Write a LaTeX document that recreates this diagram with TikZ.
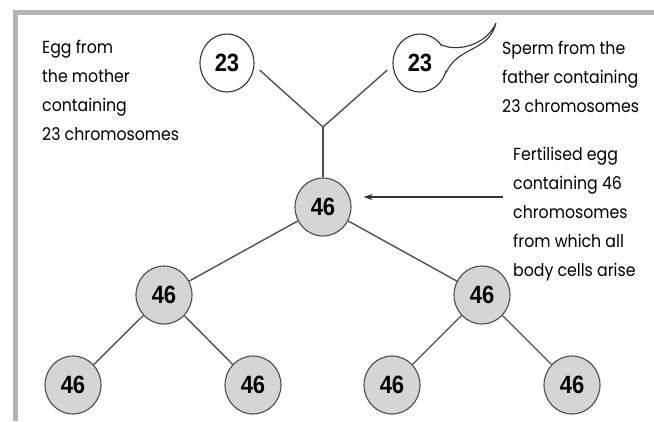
\documentclass[tikz,border=0pt]{standalone}
\usepackage{fontspec}
\setmainfont[FakeStretch=0.9]{Poppins}
\newfontfamily\numfont[FakeStretch=0.88]{Liberation Sans}
\usepackage{tikz}
\usetikzlibrary{arrows.meta,positioning,shapes.geometric}

\definecolor{cadre}{HTML}{B4B4B4}
\definecolor{trait}{HTML}{505050}
\definecolor{gris}{HTML}{D5D5D5}

\begin{document}
\begin{tikzpicture}[
    x=1pt,
    y=-1pt,
    >=Stealth,
    gamete/.style={
        ellipse,
        draw=black!80,
        line width=1.1pt,
        fill=white,
        minimum width=54pt,
        minimum height=58pt,
        inner sep=0pt,
        font=\numfont\bfseries\fontsize{25}{25}\selectfont
    },
    cellule/.style={
        ellipse,
        draw=black!70,
        line width=1.1pt,
        fill=gris,
        minimum width=56pt,
        minimum height=58pt,
        inner sep=0pt,
        font=\numfont\bfseries\fontsize{25}{25}\selectfont
    },
    lien/.style={
        draw=trait,
        line width=1.4pt
    },
    fleche/.style={
        -{Stealth[length=9pt,width=6pt]},
        draw=black!80,
        line width=1.2pt,
        shorten >=12pt
    },
    legende/.style={
        align=left,
        anchor=north west,
        inner sep=0pt,
        font=\fontsize{17.5}{29}\selectfont
    }
]
\useasboundingbox (0,0) rectangle (654,421);

% Frame
\draw[cadre, line width=5pt] (654,12.5) -- (15,12.5) -- (15,421);

% Gametes
\node[gamete] (oeuf) at (227,63) {23};
\node[gamete] (sperme) at (420,63) {23};
\coordinate (queue) at (496,23);

% Sperm tail
\fill[white] (sperme.40) .. controls (456,52) and (486,46) .. (queue)
    .. controls (489,52) and (458,46) .. (sperme.-20) -- cycle;
\draw[black!80, line width=1.1pt] (sperme.40) .. controls (456,52) and (486,46) .. (queue)
    .. controls (489,52) and (458,46) .. (sperme.-20);

% Fertilisation
\coordinate (jonction) at (323,127);
\node[cellule] (zyg) at (323,207) {46};
\draw[lien, shorten <=7pt] (oeuf.-5) -- (jonction);
\draw[lien, shorten <=7pt] (sperme.185) -- (jonction);
\draw[lien] (jonction) -- (zyg);

% Divisions
\node[cellule] (g1) at (164,295) {46};
\node[cellule] (d1) at (482,295) {46};
\node[cellule] (g11) at (73,385) {46};
\node[cellule] (g12) at (253,385) {46};
\node[cellule] (d11) at (392,385) {46};
\node[cellule] (d12) at (572,385) {46};

\draw[lien] (zyg) -- (g1);
\draw[lien] (zyg) -- (d1);
\draw[lien] (g1) -- (g11);
\draw[lien] (g1) -- (g12);
\draw[lien] (d1) -- (d11);
\draw[lien] (d1) -- (d12);

% Labels
\node[legende] (txtoeuf) at (42,40) {Egg from\\the mother\\containing\\23 chromosomes};
\node[legende] (txtsperme) at (502,41) {Sperm from the\\father containing\\23 chromosomes};
\node[legende] (txtzyg) at (513,147) {Fertilised egg\\containing 46\\chromosomes\\from which all\\body cells arise};

% Pointer
\coordinate (depart) at (503,197);
\draw[fleche] (depart) -- (depart -| zyg.east);

\end{tikzpicture}
\end{document}
